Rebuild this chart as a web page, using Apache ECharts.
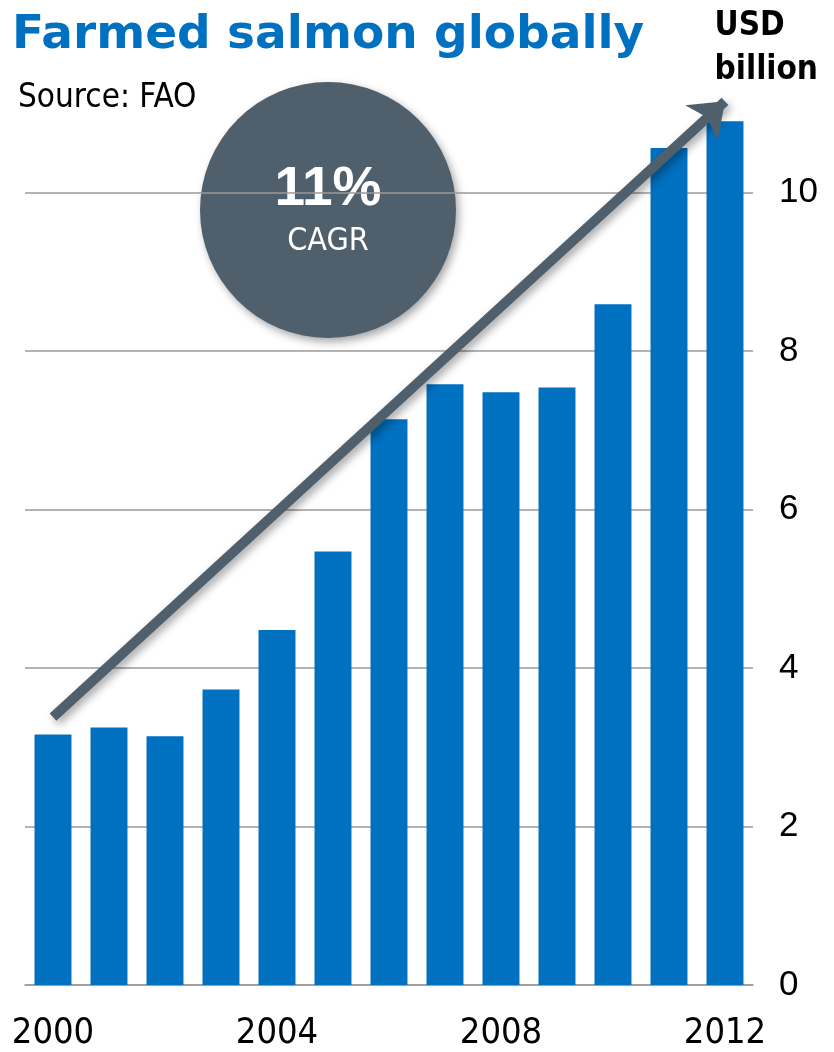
<!DOCTYPE html>
<html>
<head>
<meta charset="utf-8">
<script src="https://cdn.jsdelivr.net/npm/echarts@6/dist/echarts.min.js"></script>
<style>
  html, body { margin: 0; padding: 0; background: #fff; }
  #chart { width: 834px; height: 100vh; }
</style>
</head>
<body>
<div id="chart"></div>
<script>
// Data
const years = ["2000", "2001", "2002", "2003", "2004", "2005", "2006",
  "2007", "2008", "2009", "2010", "2011", "2012"];
const valueUsdBn = [3.16, 3.25, 3.14, 3.73, 4.48, 5.47, 7.14, 7.58, 7.48, 7.54, 8.59, 10.56, 10.9];
const trendStart = 3.38;   // arrow tail at 2000
const trendEnd = 11.15;    // arrow tip at 2012

const narrow = "'DejaVu Sans Condensed', 'Liberation Sans', sans-serif";

const chart = echarts.init(document.getElementById("chart"));

chart.setOption({
  animation: false,
  grid: { left: 25, right: 81, top: 34, height: 957 },
  xAxis: {
    type: "category",
    data: years,
    axisLine: { lineStyle: { color: "#9a9a9a", width: 1.5 } },
    axisTick: {
      interval: 3,
      length: 16,
      lineStyle: { color: "#9a9a9a", width: 1.5 }
    },
    axisLabel: {
      interval: 3,
      margin: 31,
      color: "#000",
      fontFamily: narrow,
      fontSize: 36
    }
  },
  yAxis: {
    type: "value",
    position: "right",
    min: 0,
    max: 12,
    interval: 2,
    axisLine: { show: false },
    axisTick: { show: false },
    axisLabel: {
      showMaxLabel: false,
      margin: 26,
      color: "#000",
      fontFamily: "'Liberation Sans', sans-serif",
      fontSize: 35
    },
    splitLine: { showMaxLine: false, lineStyle: { color: "#9a9a9a", width: 1.5 } }
  },
  series: [
    {
      type: "bar",
      data: valueUsdBn,
      barCategoryGap: "34%",
      itemStyle: { color: "#0070C0" },
      markLine: {
        silent: true,
        symbol: ["none", "arrow"],
        symbolSize: [36, 32],
        label: { show: false },
        lineStyle: {
          color: "#4F606C",
          width: 10,
          type: "solid",
          shadowBlur: 8,
          shadowColor: "rgba(0,0,0,0.35)",
          shadowOffsetX: 3,
          shadowOffsetY: 4
        },
        data: [[{ coord: [0, trendStart] }, { coord: [12, trendEnd] }]]
      }
    }
  ],
  graphic: [
    {
      type: "text",
      left: 12,
      top: 12,
      style: {
        text: "Farmed salmon globally",
        fill: "#0070C0",
        font: "bold 47px 'DejaVu Sans'"
      }
    },
    {
      type: "text",
      left: 18,
      top: 82,
      style: {
        text: "Source: FAO",
        fill: "#000",
        font: "33px " + narrow
      }
    },
    {
      type: "text",
      right: 16,
      top: 4,
      style: {
        text: "USD\nbillion",
        fill: "#000",
        align: "right",
        lineHeight: 44,
        font: "bold 33px " + narrow
      }
    },
    {
      type: "group",
      z: 10,
      children: [
        {
          type: "circle",
          shape: { cx: 328, cy: 210, r: 128 },
          style: {
            fill: "#4F606C",
            shadowBlur: 8,
            shadowColor: "rgba(0,0,0,0.35)",
            shadowOffsetX: 3,
            shadowOffsetY: 4
          }
        },
        {
          type: "text",
          x: 328,
          y: 190,
          style: {
            text: "11%",
            fill: "#fff",
            align: "center",
            verticalAlign: "middle",
            font: "bold 55px 'Liberation Sans', sans-serif"
          }
        },
        {
          type: "text",
          x: 328,
          y: 242,
          style: {
            text: "CAGR",
            fill: "#fff",
            align: "center",
            verticalAlign: "middle",
            font: "32px " + narrow
          }
        }
      ]
    }
  ]
});

window.addEventListener("resize", function () {
  chart.resize();
});
</script>
</body>
</html>
